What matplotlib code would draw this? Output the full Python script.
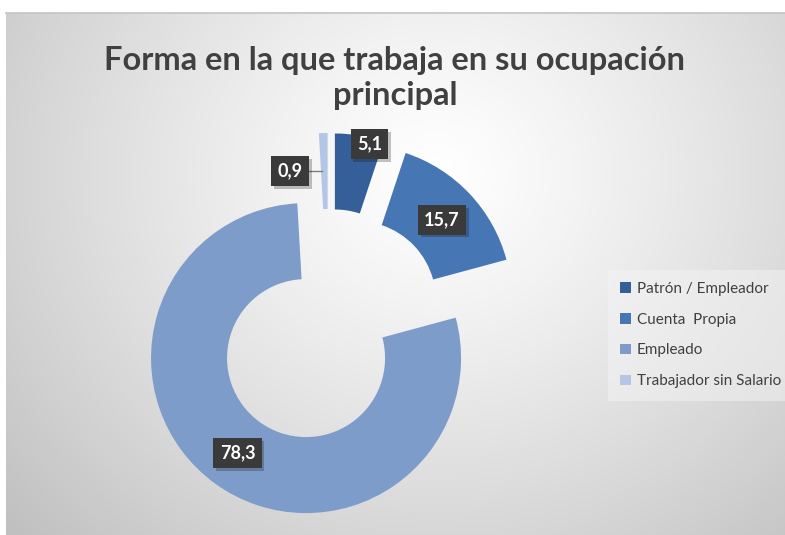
import matplotlib.pyplot as plt
import matplotlib.patheffects as pe
import numpy as np
from matplotlib.lines import Line2D

categorias = ['Patrón / Empleador', 'Cuenta  Propia', 'Empleado', 'Trabajador sin Salario']
valores = [5.1, 15.7, 78.3, 0.9]
etiquetas = ['5,1', '15,7', '78,3', '0,9']
colores = ['#355f98', '#4676b3', '#7e9cc9', '#b4c6e5']

W, H = 785, 535


def main():
    plt.rcParams['font.family'] = ['Lato', 'DejaVu Sans']
    fig = plt.figure(figsize=(W / 100, H / 100), dpi=100)
    fig.patch.set_facecolor('white')

    # fondo con degradado radial (estilo Excel)
    bg = fig.add_axes([6 / W, 0, 1 - 6 / W, 1 - 13 / H])
    yy, xx = np.mgrid[0:H - 13, 0:W - 6]
    d = np.hypot(xx - 430, (yy - 160) * 1.1)
    d = d / d.max()
    g = np.clip(1.0 - 0.25 * d ** 1.2, 0, 1)
    bg.imshow(np.dstack([g, g, g]), aspect='auto', interpolation='bilinear')
    bg.axis('off')
    fig.add_artist(Line2D([6 / W, 1], [1 - 13 / H, 1 - 13 / H], color='#c4c4c4', lw=1.2))

    ax = fig.add_axes([0, 0, 1, 1])
    ax.patch.set_alpha(0)
    wedges, _ = ax.pie(valores, colors=colores, startangle=90, counterclock=False,
                       center=(328.7, H - 326.7), radius=155,
                       explode=[38.7] * len(valores),
                       wedgeprops=dict(width=76, linewidth=0))
    ax.set_xlim(0, W)
    ax.set_ylim(0, H)
    ax.axis('off')

    # etiquetas de datos
    desplaz = [(16, 29), (0, 0), (0, 0), (-34, 0)]
    for w, txt, (dx, dy) in zip(wedges, etiquetas, desplaz):
        th = np.deg2rad((w.theta1 + w.theta2) / 2)
        rm = w.r - w.width / 2
        x = w.center[0] + rm * np.cos(th) + dx
        y = w.center[1] + rm * np.sin(th) + dy
        t = ax.text(x, y, txt, ha='center', va='center', fontsize=13,
                    fontweight='bold', color='white',
                    bbox=dict(boxstyle='square,pad=0.35', fc='#3a3a3a', ec='none'))
        t.get_bbox_patch().set_path_effects(
            [pe.SimplePatchShadow(offset=(2, -2), alpha=0.25), pe.Normal()])
        if dx < 0:
            ax.plot([x + 18, x + 32], [y, y], color='#7f7f7f', lw=1)

    leg = ax.legend(wedges, categorias, loc='upper left',
                    bbox_to_anchor=(600 / W, 1 - 262 / H), fontsize=11,
                    handlelength=0.7, handleheight=0.7, handletextpad=0.4,
                    labelspacing=1.1, borderpad=0.8, frameon=True, fancybox=False)
    leg.get_frame().set_facecolor('#f4f4f4')
    leg.get_frame().set_alpha(0.5)
    leg.get_frame().set_edgecolor('none')
    for t in leg.get_texts():
        t.set_color('#404040')

    fig.text(0.503, 1 - 78 / H, 'Forma en la que trabaja en su ocupación\nprincipal',
             ha='center', va='center', fontsize=23.5, fontweight='bold',
             color='#404040', linespacing=1.25)

    fig.savefig('out.png', dpi=100)


if __name__ == '__main__':
    main()
